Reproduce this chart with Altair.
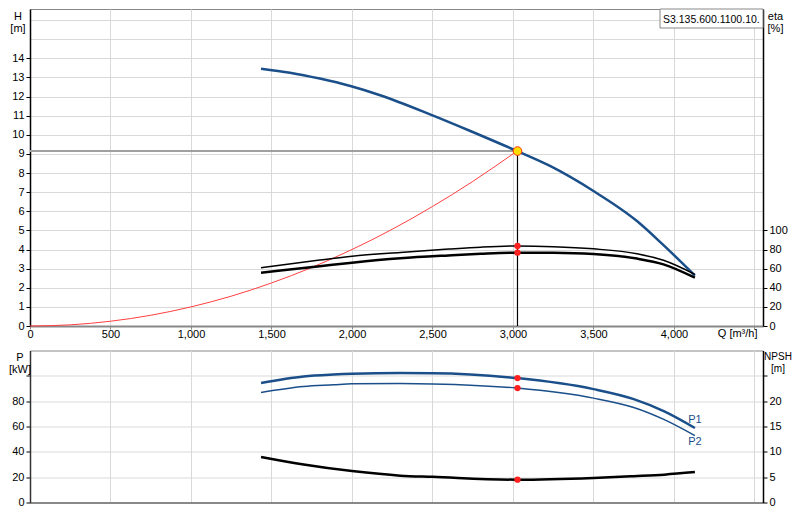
import altair as alt
import pandas as pd

# ---------------- data ----------------
# Pump head curve H(Q)
q_h = [1435, 1615, 1800, 1990, 2175, 2485, 2735, 3025, 3230, 3500, 3770, 3930, 4130]
h_vals = [13.46, 13.25, 12.94, 12.55, 12.07, 11.07, 10.2, 9.15, 8.37, 7.06, 5.49, 4.27, 2.64]

# System curve (red)
q_sys = [0, 250, 500, 750, 1000, 1250, 1500, 1750, 2000, 2250, 2500, 2750, 3025]
h_sys = [0, 0.06, 0.25, 0.56, 1.0, 1.56, 2.25, 3.06, 4.0, 5.06, 6.25, 7.56, 9.15]

# Efficiency curves
q_eta = [1435, 1800, 2000, 2300, 2600, 2800, 3025, 3250, 3500, 3770, 3935, 4130]
eta_1 = [61, 69, 73, 77, 80.5, 82.5, 83.7, 83, 80.7, 75.6, 68.7, 54]
eta_2 = [55.7, 62.5, 66.2, 70.8, 73.8, 75.5, 76.7, 76.6, 75.2, 70.5, 64.5, 50.5]

# Power curves
q_p = [1435, 1700, 1885, 2000, 2300, 2500, 3025, 3500, 3750, 3940, 4130]
p_1 = [94.3, 99.5, 101, 101.6, 102.2, 102.1, 98.2, 89.5, 81.6, 71.9, 58.8]
p_2 = [86.9, 91.6, 92.9, 93.7, 93.9, 93.6, 90.3, 82.4, 75, 65.4, 52.8]

# NPSH curve
q_n = [1435, 1700, 2000, 2300, 2500, 3025, 3500, 3750, 3940, 4130]
npsh = [9.0, 7.5, 6.2, 5.3, 5.06, 4.5, 4.85, 5.2, 5.5, 6.0]

# Duty point
q_op = 3028
h_op = 9.15
eta1_op = 83.7
eta2_op = 76.7
p1_op = 98.2
p2_op = 90.3
npsh_op = 4.5

x_ticks = [0, 500, 1000, 1500, 2000, 2500, 3000, 3500, 4000, 4500]
h_ticks = list(range(0, 17))
eta_ticks = [0, 20, 40, 60, 80, 100]
p_ticks = [0, 20, 40, 60, 80, 100]
npsh_ticks = [0, 5, 10, 15, 20, 25]
model_label = ["S3.135.600.1100.10."]
curve_labels = ["P1", "P2"]

# ---------------- styling ----------------
BLUE = "#1a4f8a"
RED = "#ff2020"
FONT = "Liberation Sans"
X_MAX = 4553
H_MAX = 16.58
ETA_MAX = 331.6
P_MAX = 120
NPSH_MAX = 30

df_h = pd.DataFrame({"Q": q_h, "H": h_vals})
df_sys = pd.DataFrame({"Q": q_sys, "H": h_sys})
df_eta = pd.DataFrame({"Q": q_eta, "eta1": eta_1, "eta2": eta_2})
df_p = pd.DataFrame({"Q": q_p, "P1": p_1, "P2": p_2})
df_n = pd.DataFrame({"Q": q_n, "NPSH": npsh})
df_op = pd.DataFrame({
    "Q": [q_op], "Q0": [0], "H": [h_op], "H0": [0],
    "eta1": [eta1_op], "eta2": [eta2_op],
    "P1": [p1_op], "P2": [p2_op], "NPSH": [npsh_op],
})
df_lab1 = pd.DataFrame({"Q": [q_p[-1]], "P": [p_1[-1]], "lab": [curve_labels[0]]})
df_lab2 = pd.DataFrame({"Q": [q_p[-1]], "P": [p_2[-1]], "lab": [curve_labels[1]]})
df_box = pd.DataFrame({"lab": model_label})

xs = alt.Scale(domain=[0, X_MAX], nice=False, zero=False)
hs = alt.Scale(domain=[0, H_MAX], nice=False)
es = alt.Scale(domain=[0, ETA_MAX], nice=False)
ps = alt.Scale(domain=[0, P_MAX], nice=False)
ns = alt.Scale(domain=[0, NPSH_MAX], nice=False)

x_axis_top = alt.Axis(
    values=x_ticks, labelExpr="datum.value >= 4500 ? '' : format(datum.value, ',')",
    grid=True, tickSize=3, tickColor="#888", domainColor="#888", domainWidth=2,
    labelPadding=-1, labelBaseline="top",
    title="Q [m³/h]", titleX=727, titleY=10, titleAlign="right", titleBaseline="alphabetic",
)
x_axis_bot = alt.Axis(
    values=x_ticks, labels=False, ticks=False, grid=True,
    domainColor="#888", domainWidth=2, title=None,
)
h_axis = alt.Axis(
    orient="left", values=h_ticks, labelExpr="datum.value > 14 ? '' : datum.label",
    tickOpacity={"condition": {"test": "datum.value > 14", "value": 0}, "value": 1},
    grid=True, tickSize=4, labelPadding=2, domainColor="black", domainWidth=1.5, tickColor="black",
    title=["H", "[m]"], titleAngle=0, titleAlign="center", titleBaseline="top",
    titleX=-12.5, titleY=1, titleLineHeight=12,
)
eta_axis = alt.Axis(
    orient="right", values=eta_ticks, grid=False, tickSize=4, labelPadding=2,
    domainColor="black", domainWidth=1.5, tickColor="black",
    title=["eta", "[%]"], titleAngle=0, titleAlign="center", titleBaseline="top",
    titleX=12, titleY=1, titleLineHeight=12,
)
p_axis = alt.Axis(
    orient="left", values=p_ticks, labelExpr="datum.value > 80 ? '' : datum.label",
    grid=True, tickSize=4, labelPadding=2, domainColor="#333", domainWidth=1.5, tickColor="black",
    title=["P", "[kW]"], titleAngle=0, titleAlign="center", titleBaseline="top",
    titleX=-10.5, titleY=1, titleLineHeight=12,
)
n_axis = alt.Axis(
    orient="right", values=npsh_ticks, labelExpr="datum.value > 20 ? '' : datum.label",
    grid=False, tickSize=4, labelPadding=2, domainColor="black", domainWidth=1.5, tickColor="black",
    title=["NPSH", "[m]"], titleAngle=0, titleAlign="center", titleBaseline="top",
    titleX=14.5, titleY=1, titleLineHeight=12, titleFontSize=10,
)


def XT(field):
    return alt.X(field, type="quantitative", scale=xs, axis=x_axis_top)


def XB(field):
    return alt.X(field, type="quantitative", scale=xs, axis=x_axis_bot)


def YH(field):
    return alt.Y(field, type="quantitative", scale=hs, axis=h_axis)


def YE(field):
    return alt.Y(field, type="quantitative", scale=es, axis=eta_axis)


def YP(field):
    return alt.Y(field, type="quantitative", scale=ps, axis=p_axis)


def YN(field):
    return alt.Y(field, type="quantitative", scale=ns, axis=n_axis)


# ---------------- top panel ----------------
sys_line = alt.Chart(df_sys).mark_line(color="#ff4040", strokeWidth=1, interpolate="monotone").encode(
    x=XT("Q"), y=YH("H"))
hline = alt.Chart(df_op).mark_rule(color="#a0a0a0", strokeWidth=2).encode(
    x=XT("Q0"), x2="Q", y=YH("H"))
vline = alt.Chart(df_op).mark_rule(color="black", strokeWidth=1.2).encode(
    x=XT("Q"), y=YH("H0"), y2="H")
h_line = alt.Chart(df_h).mark_line(color=BLUE, strokeWidth=2.5, interpolate="monotone").encode(
    x=XT("Q"), y=YH("H"))
op_pt = alt.Chart(df_op).mark_point(filled=True, fill="#ffdd00", stroke="#ff3300", strokeWidth=1,
                                    size=75, opacity=1, shape="circle").encode(
    x=XT("Q"), y=YH("H"))
box_rect = alt.Chart(df_box).mark_rect(fill="white", stroke="#888", strokeWidth=1).encode(
    x=alt.value(630), x2=alt.value(733), y=alt.value(0), y2=alt.value(19))
box_text = alt.Chart(df_box).mark_text(align="left", baseline="alphabetic", font=FONT, fontSize=10.5,
                                       color="black").encode(
    x=alt.value(633), y=alt.value(14), text="lab:N")

eta1_line = alt.Chart(df_eta).mark_line(color="black", strokeWidth=1.5, interpolate="monotone").encode(
    x=XT("Q"), y=YE("eta1"))
eta2_line = alt.Chart(df_eta).mark_line(color="black", strokeWidth=2.5, interpolate="monotone").encode(
    x=XT("Q"), y=YE("eta2"))
eta1_dot = alt.Chart(df_op).mark_circle(color=RED, size=40, opacity=1).encode(x=XT("Q"), y=YE("eta1"))
eta2_dot = alt.Chart(df_op).mark_circle(color=RED, size=40, opacity=1).encode(x=XT("Q"), y=YE("eta2"))

top_left = alt.layer(sys_line, hline, vline, h_line, op_pt, box_rect, box_text)
top_right = alt.layer(eta1_line, eta2_line, eta1_dot, eta2_dot)
top = alt.layer(top_left, top_right).resolve_scale(y="independent").properties(width=733, height=317)

# ---------------- bottom panel ----------------
p1_line = alt.Chart(df_p).mark_line(color=BLUE, strokeWidth=2.5, interpolate="monotone").encode(
    x=XB("Q"), y=YP("P1"))
p2_line = alt.Chart(df_p).mark_line(color=BLUE, strokeWidth=1.5, interpolate="monotone").encode(
    x=XB("Q"), y=YP("P2"))
p1_dot = alt.Chart(df_op).mark_circle(color=RED, size=40, opacity=1).encode(x=XB("Q"), y=YP("P1"))
p2_dot = alt.Chart(df_op).mark_circle(color=RED, size=40, opacity=1).encode(x=XB("Q"), y=YP("P2"))
p1_lab = alt.Chart(df_lab1).mark_text(color=BLUE, font=FONT, fontSize=11, dy=-8, align="center",
                                      baseline="middle").encode(x=XB("Q"), y=YP("P"), text="lab:N")
p2_lab = alt.Chart(df_lab2).mark_text(color=BLUE, font=FONT, fontSize=11, dy=6, align="center",
                                      baseline="middle").encode(x=XB("Q"), y=YP("P"), text="lab:N")

n_line = alt.Chart(df_n).mark_line(color="black", strokeWidth=2.5, interpolate="monotone").encode(
    x=XB("Q"), y=YN("NPSH"))
n_dot = alt.Chart(df_op).mark_circle(color=RED, size=40, opacity=1).encode(x=XB("Q"), y=YN("NPSH"))

bot_left = alt.layer(p1_line, p2_line, p1_dot, p2_dot, p1_lab, p2_lab)
bot_right = alt.layer(n_line, n_dot)
bottom = alt.layer(bot_left, bot_right).resolve_scale(y="independent").properties(width=733, height=152)

chart = alt.vconcat(top, bottom, spacing=9.5).properties(
    padding={"left": 0, "top": 0, "right": 0, "bottom": 0}
).configure_axis(
    labelFont=FONT, titleFont=FONT, labelFontSize=11, titleFontSize=11,
    titleFontWeight="normal", labelColor="black", titleColor="black",
    gridColor="#d9d9d9", gridWidth=1, labelFlush=False, labelOverlap=False,
).configure_view(stroke="#888", strokeWidth=1)

chart.save("out.html", embed_options={"renderer": "svg", "actions": False})
